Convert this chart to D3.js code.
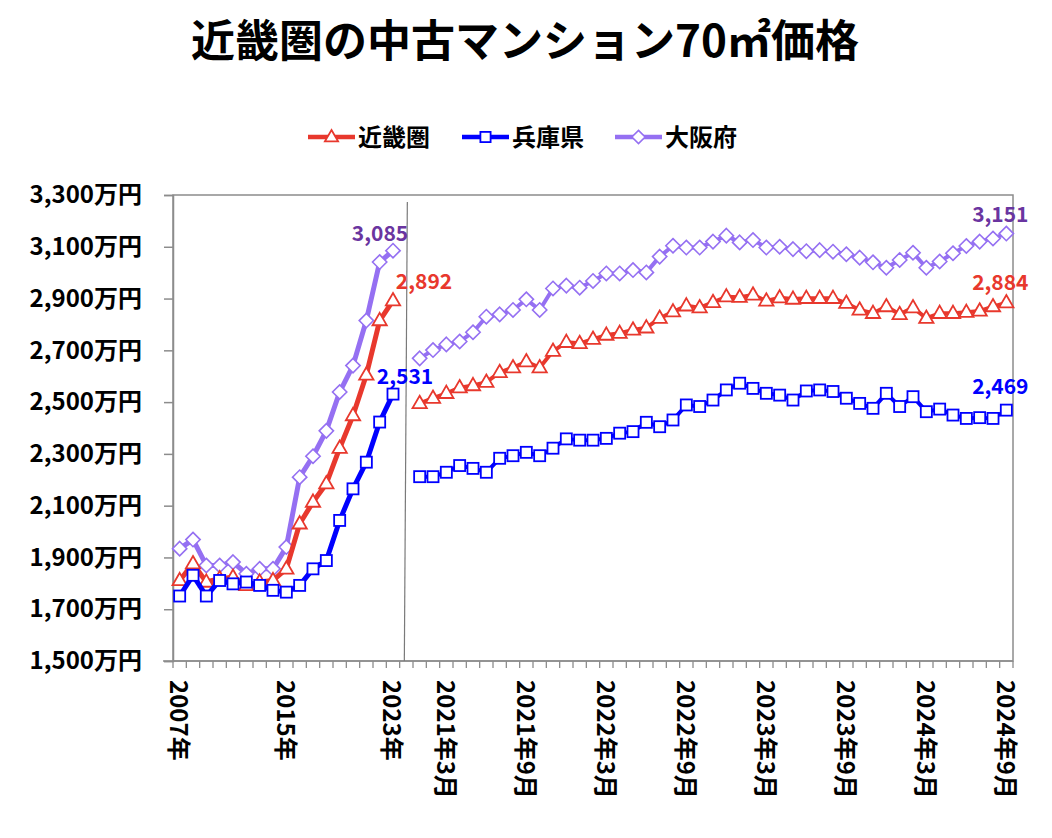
<!DOCTYPE html>
<html><head><meta charset="utf-8">
<script src="https://cdn.jsdelivr.net/npm/d3@7"></script>
<style>
body{margin:0;background:#fff;}
text{font-family:"Noto Sans CJK JP","Noto Sans",sans-serif;font-weight:bold;}
</style></head>
<body><svg id="c" width="1052" height="838"></svg>
<script>
const title = "近畿圏の中古マンション70㎡価格";
const seriesNames = ["近畿圏","兵庫県","大阪府"];
const annualCats = ["2007年","2008年","2009年","2010年","2011年","2012年","2013年","2014年","2015年","2016年","2017年","2018年","2019年","2020年","2021年","2022年","2023年"];
const gapCat = [" "];
const monthCats = [];
[2021,2022,2023,2024].forEach(y=>{for(let m=1;m<=12;m++){ if(y===2024&&m>9) break; monthCats.push(y+"年"+m+"月");}});
const tickLabels = ["2007年","2015年","2023年","2021年3月","2021年9月","2022年3月","2022年9月","2023年3月","2023年9月","2024年3月","2024年9月"];
const yTicks = [1500,1700,1900,2100,2300,2500,2700,2900,3100,3300];

const kinkiAnnual = [1811,1876,1805,1818,1824,1792,1805,1811,1856,2030,2114,2185,2322,2448,2605,2815,2892];
const hyogoAnnual = [1751,1831,1751,1811,1798,1805,1792,1773,1766,1792,1856,1888,2043,2165,2268,2423,2531];
const osakaAnnual = [1934,1969,1869,1869,1882,1837,1856,1856,1940,2210,2291,2389,2539,2641,2815,3041,3085];

const kinkiMonthly = [2495,2515,2534,2556,2564,2577,2615,2633,2656,2633,2697,2731,2727,2743,2759,2766,2779,2787,2824,2849,2872,2865,2885,2907,2905,2914,2891,2903,2898,2901,2901,2901,2882,2856,2843,2869,2839,2865,2824,2843,2843,2847,2852,2869,2884];
const hyogoMonthly = [2212,2212,2229,2255,2244,2229,2283,2293,2306,2293,2322,2358,2353,2353,2360,2380,2386,2422,2405,2431,2489,2483,2508,2547,2573,2553,2534,2527,2508,2543,2547,2541,2515,2495,2476,2534,2483,2521,2463,2473,2450,2437,2440,2437,2469];
const osakaMonthly = [2669,2701,2723,2734,2770,2830,2839,2856,2897,2856,2939,2950,2942,2968,2997,2997,3010,3001,3062,3104,3097,3097,3120,3143,3117,3126,3097,3100,3091,3083,3087,3081,3071,3058,3040,3019,3049,3077,3019,3043,3075,3103,3120,3132,3151];

const colors = {"近畿圏":"#e8382d","兵庫県":"#0000ff","大阪府":"#9570f2"};
const labelColors = {"近畿圏":"#e8382d","兵庫県":"#0000ff","大阪府":"#6a35a0"};
const shapes = {"近畿圏":"tri","兵庫県":"sq","大阪府":"dia"};

const svg = d3.select("#c");
const L=173,R=1013,T=195,B=661;
const cats = annualCats.concat(gapCat, monthCats);
const x = d3.scaleBand().domain(cats).range([L,R]).paddingInner(0).paddingOuter(0);
const cx = c => x(c)+x.bandwidth()/2;
const y = d3.scaleLinear().domain([1500,3300]).range([B,T]);
const fmt = d3.format(",");

// title
svg.append("text").attr("x",525).attr("y",57).attr("text-anchor","middle").attr("font-size",44).attr("fill","#000").text(title);

// plot border
const axisColor="#8c8c8c";
svg.append("rect").attr("x",L).attr("y",T).attr("width",R-L).attr("height",B-T).attr("fill","none").attr("stroke",axisColor).attr("stroke-width",1.5);

// y axis
const yAxis = d3.axisLeft(y).tickValues(yTicks).tickSize(9).tickFormat(d=>fmt(d)+"万円");
const gy = svg.append("g").attr("transform",`translate(${L},0)`).call(yAxis);
gy.select(".domain").attr("stroke",axisColor).attr("stroke-width",1.5);
gy.selectAll(".tick line").attr("stroke",axisColor).attr("stroke-width",1.5);
gy.selectAll(".tick text").attr("font-size",24).attr("fill","#000").attr("x",-31).attr("font-family",'"Noto Sans CJK JP",sans-serif').attr("font-weight","bold");

// x ticks at every category boundary
const bounds = cats.map(c=>x(c)).concat([R]);
svg.append("g").selectAll("line").data(bounds).join("line")
  .attr("x1",d=>d).attr("x2",d=>d).attr("y1",B).attr("y2",B+7)
  .attr("stroke",axisColor).attr("stroke-width",1.3);
svg.append("line").attr("x1",L-10).attr("x2",R).attr("y1",B).attr("y2",B).attr("stroke",axisColor).attr("stroke-width",1.5);

// x labels
svg.append("g").selectAll("text").data(tickLabels).join("text")
  .attr("transform",d=>`translate(${cx(d)-1},680) rotate(90)`)
  .attr("dy","0.36em").attr("font-size",24).attr("fill","#000").text(d=>d);

// divider in gap category
svg.append("line").attr("x1",cx(gapCat[0])+1).attr("x2",cx(gapCat[0])-2).attr("y1",T+7).attr("y2",B)
  .attr("stroke","#7a7a7a").attr("stroke-width",1.2);

// markers
function marker(g, shape, color, size){
  if(shape==="tri"){
    const w=size*1.1,h=size*0.95;
    g.append("path").attr("d",`M0,${-h*0.62}L${w/2},${h*0.38}L${-w/2},${h*0.38}Z`).attr("fill","#fff").attr("stroke",color).attr("stroke-width",1.8);
  } else if(shape==="sq"){
    const s=size*0.85;
    g.append("rect").attr("x",-s/2).attr("y",-s/2).attr("width",s).attr("height",s).attr("fill","#fff").attr("stroke",color).attr("stroke-width",1.8);
  } else {
    const s=size*0.55;
    g.append("path").attr("d",`M0,${-s}L${s},0L0,${s}L${-s},0Z`).attr("fill","#fff").attr("stroke",color).attr("stroke-width",1.6);
  }
}

const seriesData = [
  {name:"大阪府", annual:osakaAnnual, monthly:osakaMonthly},
  {name:"近畿圏", annual:kinkiAnnual, monthly:kinkiMonthly},
  {name:"兵庫県", annual:hyogoAnnual, monthly:hyogoMonthly}
];
const line = d3.line().x(d=>cx(d.c)).y(d=>y(d.v));
seriesData.forEach(s=>{
  const col = colors[s.name];
  const a = s.annual.map((v,i)=>({c:annualCats[i],v}));
  const m = s.monthly.map((v,i)=>({c:monthCats[i],v}));
  svg.append("path").datum(a).attr("d",line).attr("fill","none").attr("stroke",col).attr("stroke-width",5).attr("stroke-linejoin","round");
  svg.append("path").datum(m).attr("d",line).attr("fill","none").attr("stroke",col).attr("stroke-width",4).attr("stroke-linejoin","round");
  a.concat(m).forEach(d=>{
    const g = svg.append("g").attr("transform",`translate(${cx(d.c)},${y(d.v)})`);
    marker(g, shapes[s.name], col, 13);
  });
});

// end labels
const lastLabelOffsets = {
  "大阪府":{a:[-13,-10],m:[-6,-12]},
  "近畿圏":{a:[31,-12],m:[-6,-13]},
  "兵庫県":{a:[12,-10],m:[-6,-16]}
};
seriesData.forEach(s=>{
  const o = lastLabelOffsets[s.name];
  const av = s.annual[s.annual.length-1], mv = s.monthly[s.monthly.length-1];
  svg.append("text").attr("x",cx(annualCats[annualCats.length-1])+o.a[0]).attr("y",y(av)+o.a[1])
    .attr("text-anchor","middle").attr("font-size",21).attr("fill",labelColors[s.name]).text(fmt(av));
  svg.append("text").attr("x",cx(monthCats[monthCats.length-1])+o.m[0]).attr("y",y(mv)+o.m[1])
    .attr("text-anchor","middle").attr("font-size",21).attr("fill",labelColors[s.name]).text(fmt(mv));
});

// legend
const legendX = [308,462,615];
seriesNames.forEach((n,i)=>{
  const g = svg.append("g").attr("transform",`translate(${legendX[i]},137)`);
  g.append("line").attr("x1",0).attr("x2",47).attr("y1",0).attr("y2",0).attr("stroke",colors[n]).attr("stroke-width",4.5);
  const mg = g.append("g").attr("transform","translate(23.5,0)");
  marker(mg, shapes[n], colors[n], 12);
  g.append("text").attr("x",50).attr("y",0).attr("dy","0.36em").attr("font-size",24).attr("fill","#000").text(n);
});
</script></body></html>
